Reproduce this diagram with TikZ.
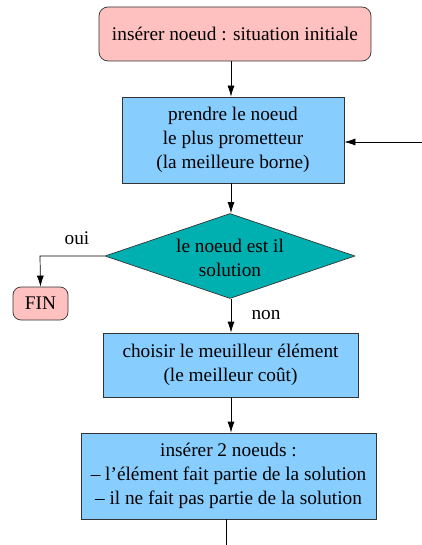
\documentclass[tikz,border=0pt]{standalone}
\usepackage{fontspec}
\setmainfont{Liberation Serif}
\usetikzlibrary{shapes.geometric,arrows.meta}
\definecolor{pinkf}{HTML}{FFC0C0}
\definecolor{bluef}{HTML}{87CEFF}
\definecolor{tealf}{HTML}{00AFAF}
\begin{document}
\begin{tikzpicture}[x=1pt,y=-1pt,
  every node/.style={font=\fontsize{19.3}{24}\selectfont},
  term/.style={draw=black!80,fill=pinkf,rounded corners=9pt,line width=0.7pt,inner sep=0pt},
  proc/.style={draw=black!80,fill=bluef,line width=0.7pt,inner sep=0pt,align=center},
  conn/.style={line width=0.7pt,-{Latex[length=11pt,width=7pt]}},
  lbl/.style={inner sep=0pt}]
\useasboundingbox (0,0) rectangle (422,545);
\node[term,minimum width=272pt,minimum height=54pt] (init) at (235,34) {insérer noeud : situation initiale};
\node[proc,minimum width=222pt,minimum height=86pt] (take) at (233,140) {prendre le noeud\\le plus prometteur\\(la meilleure borne)};
\node[draw=black!80,fill=tealf,line width=0.7pt,diamond,aspect=2.98,inner sep=0pt,minimum width=250pt,minimum height=85pt,align=center] (dec) at (230,256) {};
\node[lbl,align=center] at (230,258) {le noeud est il\\solution};
\node[term,minimum width=55pt,minimum height=33pt,rounded corners=8pt] (fin) at (40.5,303.5) {FIN};
\node[proc,minimum width=255pt,minimum height=64pt] (choose) at (230.5,365) {choisir le meuilleur élément\\(le meilleur coût)};
\node[proc,minimum width=295pt,minimum height=86pt] (ins) at (228.5,476) {insérer 2 noeuds :\\– l’élément fait partie de la solution\\– il ne fait pas partie de la solution};
\coordinate (rin) at (422,142);
\coordinate (bot) at (226,545);
\coordinate (corner) at (40,256);
\node[lbl] at (77,238) {oui};
\node[lbl] at (266,315) {non};
\draw[conn] (init.south -| 231,0) -- (take.north -| 231,0);
\draw[conn] (rin) -- (take.east |- rin);
\draw[conn] (take.south -| 231,0) -- (dec.north -| 231,0);
\draw[conn] (dec.west) -- (corner) -- (fin.north);
\draw[conn] (dec.south -| 231,0) -- (choose.north -| 231,0);
\draw[conn] (choose.south -| 231,0) -- (ins.north -| 231,0);
\draw[line width=0.7pt] (ins.south -| bot) -- (bot);
\end{tikzpicture}
\end{document}
